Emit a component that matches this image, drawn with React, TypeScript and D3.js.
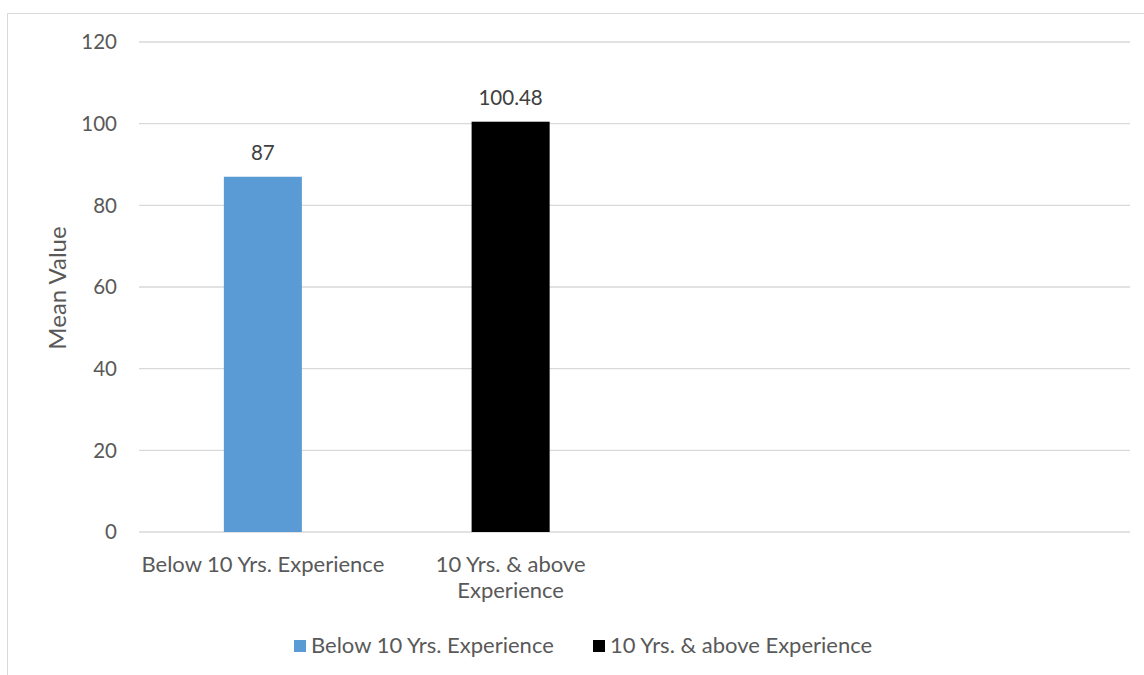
import React from "react";
import * as d3 from "d3";

const categories: string[][] = [
  ["Below 10 Yrs. Experience"],
  ["10 Yrs. & above", "Experience"],
  [],
  [],
];
const seriesNames = ["Below 10 Yrs. Experience", "10 Yrs. & above Experience"];
const seriesColors = ["#5b9bd5", "#000000"];
const values = [87, 100.48];
const valueLabels = ["87", "100.48"];
const yTicks = [0, 20, 40, 60, 80, 100, 120];

const W = 1144;
const H = 675;
const FONT = "Lato, Carlito, Calibri, sans-serif";
const TEXT = "#595959";
const FS = 22;
const FS_NUM = 20.5;

export default function App() {
  const left = 139, right = 1130, top = 42, bottom = 532;
  const x = d3.scaleBand<number>().domain(d3.range(categories.length)).range([left, right]).paddingInner(0).paddingOuter(0);
  const y = d3.scaleLinear().domain([0, 120]).range([bottom, top]);
  const barW = x.bandwidth() * 0.315;
  const legendX = [294, 593];

  return (
    <div style={{ position: "fixed", left: 0, top: 0 }}>
      <svg width={W} height={H} style={{ display: "block", background: "#fff" }}>
        <line x1={7.5} y1={13.5} x2={W} y2={13.5} stroke="#d9d9d9" strokeWidth={1} />
        <line x1={7.5} y1={13.5} x2={7.5} y2={H} stroke="#d9d9d9" strokeWidth={1} />
        {yTicks.map((t) => (
          <g key={t}>
            <line x1={left} x2={right} y1={y(t)} y2={y(t)} stroke="#d9d9d9" strokeWidth={1.3} />
            <text x={117} y={y(t)} dy="0.36em" textAnchor="end" fontFamily={FONT} fontSize={FS_NUM} fill={TEXT}>
              {t}
            </text>
          </g>
        ))}
        <text
          transform={`translate(66,${(top + bottom) / 2 + 1}) rotate(-90)`}
          textAnchor="middle"
          fontFamily={FONT}
          fontSize={FS + 2}
          fill={TEXT}
        >
          Mean Value
        </text>
        {values.map((v, i) => {
          const cx = (x(i) as number) + x.bandwidth() / 2;
          return (
            <g key={i}>
              <rect x={cx - barW / 2} y={y(v)} width={barW} height={y(0) - y(v)} fill={seriesColors[i]} />
              <text x={cx} y={y(v) - 17} textAnchor="middle" fontFamily={FONT} fontSize={FS_NUM} fill={"#404040"}>
                {valueLabels[i]}
              </text>
            </g>
          );
        })}
        {categories.map((lines, i) => {
          const cx = (x(i) as number) + x.bandwidth() / 2;
          return (
            <text key={i} textAnchor="middle" fontFamily={FONT} fontSize={FS} fill={TEXT}>
              {lines.map((l, j) => (
                <tspan key={j} x={cx} y={572 + j * 26}>
                  {l}
                </tspan>
              ))}
            </text>
          );
        })}
        {seriesNames.map((name, i) => (
          <g key={name}>
            <rect x={legendX[i]} y={640} width={12} height={12} fill={seriesColors[i]} />
            <text x={legendX[i] + 17} y={653} fontFamily={FONT} fontSize={FS} fill={TEXT}>
              {name}
            </text>
          </g>
        ))}
      </svg>
    </div>
  );
}
